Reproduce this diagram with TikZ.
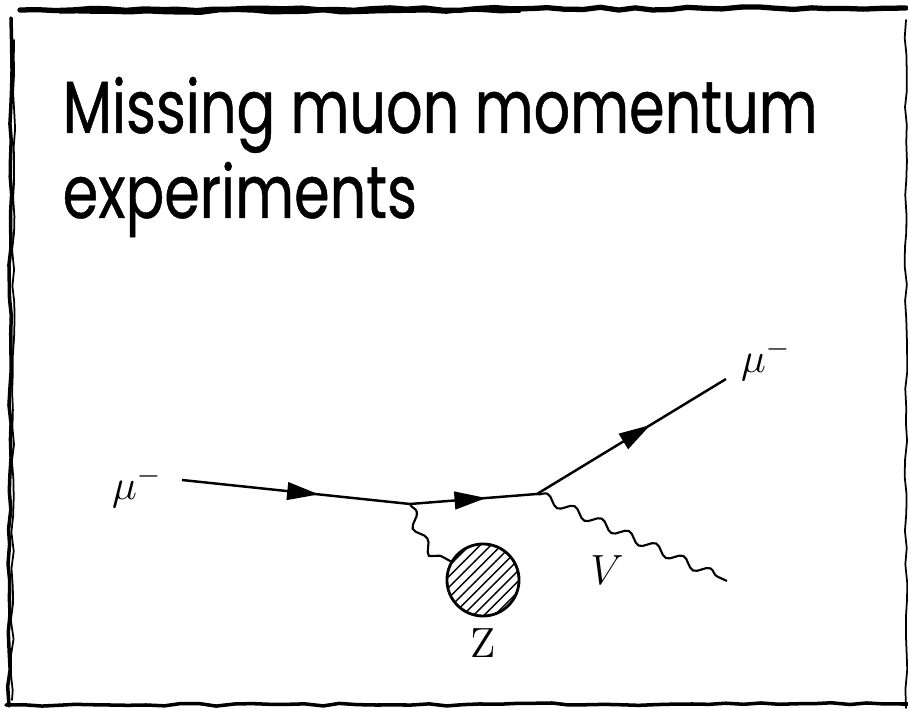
\documentclass[tikz,border=0pt]{standalone}
\usepackage[no-math]{fontspec}
\newfontfamily\titlefont[FakeStretch=0.775, FakeBold=0.6]{Poppins}
\usetikzlibrary{arrows.meta,decorations.markings,decorations.pathmorphing,patterns}

\begin{document}
\begin{tikzpicture}[x=0.01cm, y=-0.01cm,
  title/.style={font=\titlefont\fontsize{21}{24}\selectfont, anchor=base west, inner sep=0pt},
  fermion/.style={line width=0.7pt, postaction={decorate},
    decoration={markings, mark=at position 0.6 with {\arrow{Triangle[length=9pt, width=5pt]}}}},
  photon/.style={line width=0.6pt, decorate,
    decoration={snake, amplitude=1.3pt, segment length=8.5pt}},
  blob/.style={circle, draw, line width=0.8pt, pattern=north east lines, minimum size=0.72cm, inner sep=0pt},
  plabel/.style={font=\fontsize{12}{14}\selectfont, inner sep=1pt},
  sketch/.style={decorate, decoration={random steps, segment length=5pt, amplitude=0.4pt}, line cap=round}
]
\useasboundingbox (0,0) rectangle (908,709);
\pgfmathsetseed{7}
% sketchy frame
\draw[sketch, line width=1.5pt] (20,10) -- (906,8);
\draw[sketch, line width=1.0pt] (60,12) -- (520,11);
\draw[sketch, line width=1.0pt] (11,18) -- (9,706);
\draw[sketch, line width=0.5pt] (14,40) -- (12,700);
\draw[sketch, line width=1.0pt] (6,705) -- (908,704);
\draw[sketch, line width=0.5pt] (906,20) -- (906,708);

% title
\node[title] (title1) at (62,133) {Missing muon momentum};
\node[title] (title2) at (62,218) {experiments};

% vertices and free ends
\coordinate (v1) at (410,504);
\coordinate (v2) at (537,494);
\coordinate (muinend) at (182,480);
\coordinate (muoutend) at (726,379);
\coordinate (vend) at (727,581);

\node[blob] (Zblob) at (483,580) {};
\node[plabel] (muin) at (137,487) {$\mu^-$};
\node[plabel] (muout) at (766,360) {$\mu^-$};
\node[plabel] (Vlab) at (607,570) {$V$};
\node[plabel] (Zlab) at (483,643) {Z};

% lines
\draw[fermion] (muinend) -- (v1);
\draw[fermion] (v1) -- (v2);
\draw[fermion] (v2) -- (muoutend);
\draw[photon] (v2) -- (vend);
\draw[photon] (v1) to[out=-75, in=150] (Zblob.150);
\end{tikzpicture}
\end{document}
